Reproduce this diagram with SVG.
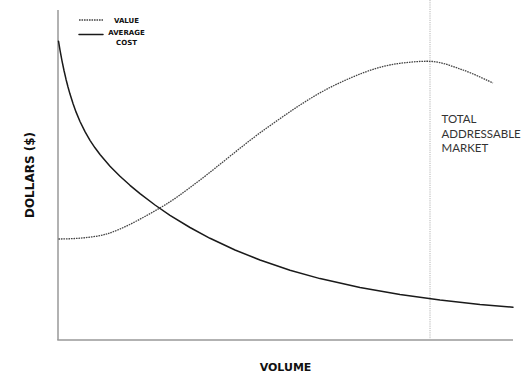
<svg xmlns="http://www.w3.org/2000/svg" width="525" height="374" viewBox="0 0 525 374">
<style>
.axis{stroke:#999;stroke-width:1.5;fill:none}
.cost{stroke:#1a1a1a;stroke-width:1.5;fill:none;stroke-linejoin:round;stroke-linecap:round}
.value{stroke:#444;stroke-width:1.3;fill:none;stroke-dasharray:1.6 0.9}
.tam{stroke:#b5b5b5;stroke-width:1;fill:none;stroke-dasharray:1.2 1}
.bold{font-family:"DejaVu Sans",sans-serif;font-weight:bold;fill:#111}
.reg{font-family:Lato,"Liberation Sans",sans-serif;font-size:11.5px;fill:#333}
</style>
<rect width="525" height="374" fill="#fff"/>
<g id="axes">
<line class="axis" x1="58" y1="10" x2="58" y2="340"/>
<line class="axis" x1="57.25" y1="340" x2="513" y2="340"/>
</g>
<g id="tam-line">
<line class="tam" x1="430" y1="0" x2="430" y2="339"/>
</g>
<g id="curves">
<path id="average-cost" class="cost" d="M58.5,41.2 L60,50.1 L62,60.8 L64,70.5 L66,79.2 L68,87 L70,94.1 L73,103.6 L76,111.9 L80,121.5 L85,131.7 L90,140.3 L95,147.8 L100,154.5 L110,166.2 L120,176.3 L130,185.3 L140,193.6 L155,205 L170,215.3 L190,227.5 L210,238.3 L235,250 L260,260 L290,270.2 L320,278.6 L360,287.6 L400,294.6 L440,300.1 L480,304.4 L513,307.2"/>
<path id="value" class="value" d="M58.5,239 C66.5,239 89.9,238.6 106.7,234 C123.5,228.9 143.75,217.3 159.3,208.3 C174.85,199.3 182.1,193.4 200,180 C217.9,166.6 244.5,143.7 266.7,128 C288.9,112.3 310.8,96.8 333,86 C355.2,75.2 378,65.9 400,63.3 C410,62.1 420,61 430,61.3 C441,61.6 452.5,66.4 463,70 C473.5,73.6 488,80.8 493,83"/>
</g>
<g id="legend">
<line class="value" x1="79" y1="20" x2="103" y2="20"/>
<text class="bold" x="114" y="22.5" font-size="7">VALUE</text>
<line class="cost" x1="79" y1="34.5" x2="103" y2="34.5" stroke-linecap="butt"/>
<text class="bold" x="126.5" y="35" font-size="7" text-anchor="middle">AVERAGE</text>
<text class="bold" x="126.5" y="45" font-size="7" text-anchor="middle">COST</text>
</g>
<g id="tam-label">
<text class="reg" x="441.5" y="123">TOTAL</text>
<text class="reg" x="441.5" y="137.5">ADDRESSABLE</text>
<text class="reg" x="441.5" y="151.5">MARKET</text>
</g>
<g id="axis-labels">
<text class="bold" font-size="12" text-anchor="middle" transform="translate(33.5,175) rotate(-90)">DOLLARS ($)</text>
<text class="bold" font-size="11" x="285.5" y="370.5" text-anchor="middle">VOLUME</text>
</g>
</svg>
